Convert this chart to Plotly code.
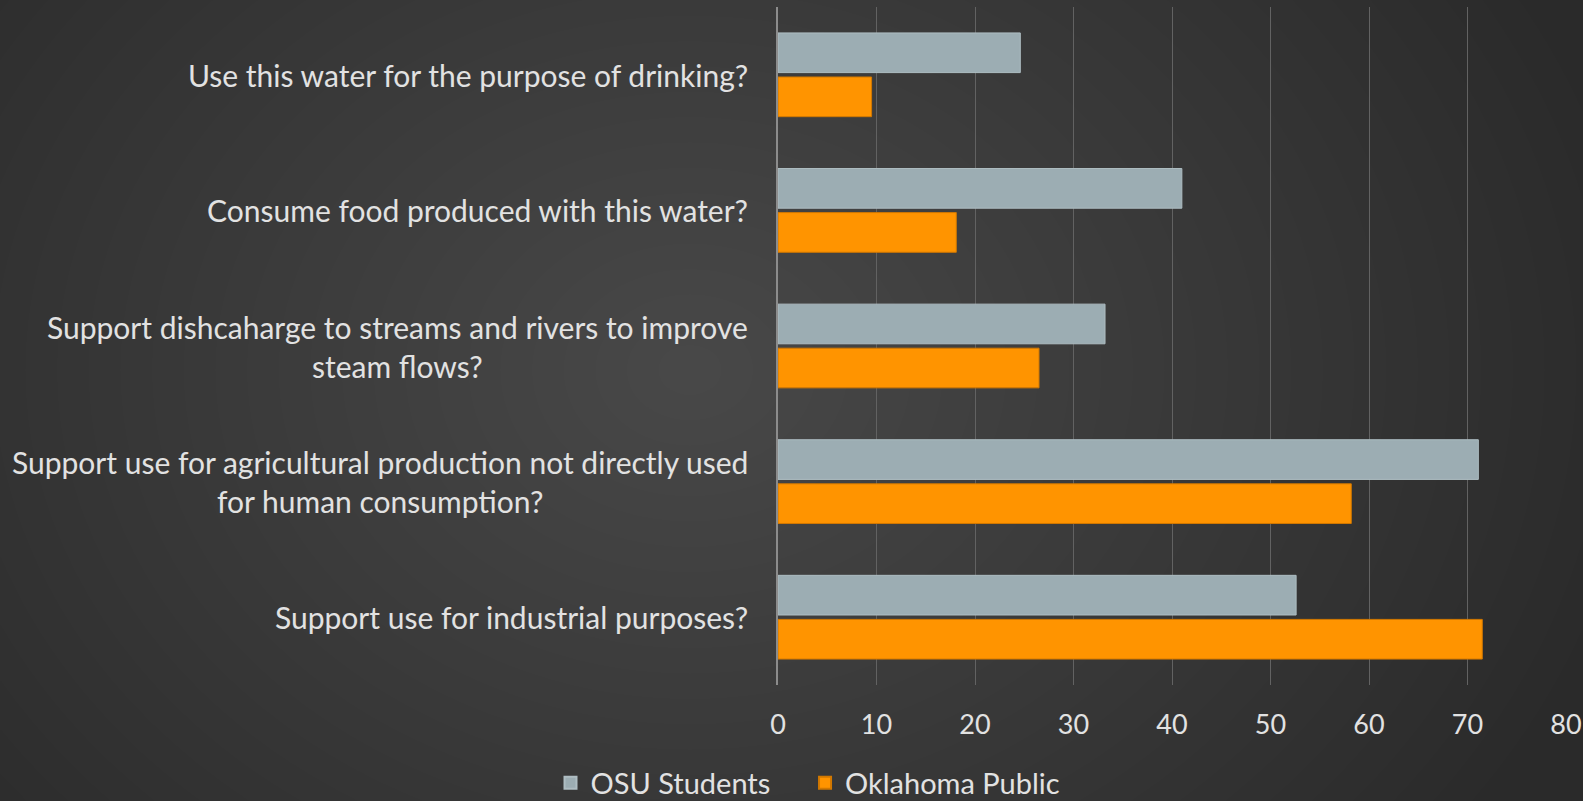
import plotly.graph_objects as go

categories = [
    "Use this water for the purpose of drinking?",
    "Consume food produced with this water?",
    "Support dishcaharge to streams and rivers to improve<br>steam flows?",
    "Support use for agricultural production not directly used<br>for human consumption?",
    "Support use for industrial purposes?",
]
osu_students = [24.6, 41.0, 33.2, 71.1, 52.6]
oklahoma_public = [9.5, 18.1, 26.5, 58.2, 71.5]
x_ticks = [0, 10, 20, 30, 40, 50, 60, 70, 80]
series_names = ["OSU Students", "Oklahoma Public"]

W, H = 1583, 801
L, R, T, B = 778, 17, 7, 116
PW, PH = W - L - R, H - T - B

FONT = "Lato"
TXT = "#e2e2e2"
PAD = "\u00a0" * 4  # extra spacing between legend entries

fig = go.Figure()
fig.add_trace(go.Bar(
    y=categories, x=osu_students, name=series_names[0] + PAD, orientation="h",
    marker=dict(color="#9cadb3", line=dict(color="#aebdc2", width=1)),
))
fig.add_trace(go.Bar(
    y=categories, x=oklahoma_public, name=series_names[1], orientation="h",
    marker=dict(color="#ff9400", line=dict(color="#d27800", width=1)),
))

# background radial gradient via stacked translucent ellipses
shapes = []
cx, cy = 690, 370
rx, ry = 950, 760
N = 30
for k in range(N, 0, -1):
    f = k / N
    x0 = (cx - rx * f - L) / PW
    x1 = (cx + rx * f - L) / PW
    y0 = (H - B - (cy + ry * f)) / PH
    y1 = (H - B - (cy - ry * f)) / PH
    shapes.append(dict(type="circle", xref="paper", yref="paper",
                       x0=x0, x1=x1, y0=y0, y1=y1, layer="below",
                       fillcolor="rgba(255,255,255,0.0075)", line=dict(width=0)))

annotations = []
for c in categories:
    annotations.append(dict(
        x=0, xref="paper", y=c, yref="y", text=c, showarrow=False,
        xanchor="right", yanchor="middle", align="center", xshift=-28,
        font=dict(family=FONT, size=30, color=TXT),
    ))

fig.update_layout(
    width=W, height=H,
    margin=dict(l=L, r=R, t=T, b=B, autoexpand=False),
    paper_bgcolor="#2a2a2a", plot_bgcolor="rgba(0,0,0,0)",
    barmode="group", bargap=0.35, bargroupgap=0.1,
    shapes=shapes, annotations=annotations,
    font=dict(family=FONT, color=TXT),
    legend=dict(orientation="h", x=(808 - L) / PW, xanchor="center",
                y=(H - B - 783) / PH, yanchor="middle",
                font=dict(family=FONT, size=29, color=TXT), itemsizing="constant",
                traceorder="normal", bgcolor="rgba(0,0,0,0)", itemwidth=30),
    xaxis=dict(range=[0, 80], tickvals=x_ticks, showgrid=True, gridcolor="#626262", gridwidth=1,
               zeroline=False, showline=False, ticks="",
               tickfont=dict(family=FONT, size=27, color=TXT), ticklabelstandoff=21),
    yaxis=dict(autorange="reversed", showticklabels=False, showgrid=False, ticks="",
               showline=True, linecolor="#8c8c8c", linewidth=2, zeroline=False),
)

fig.write_html(
    "out.html",
    config={"displayModeBar": False},
    post_script="document.body.style.margin='0';document.body.style.padding='0';"
                "document.body.style.overflow='hidden';document.body.style.background='#2a2a2a';",
)
